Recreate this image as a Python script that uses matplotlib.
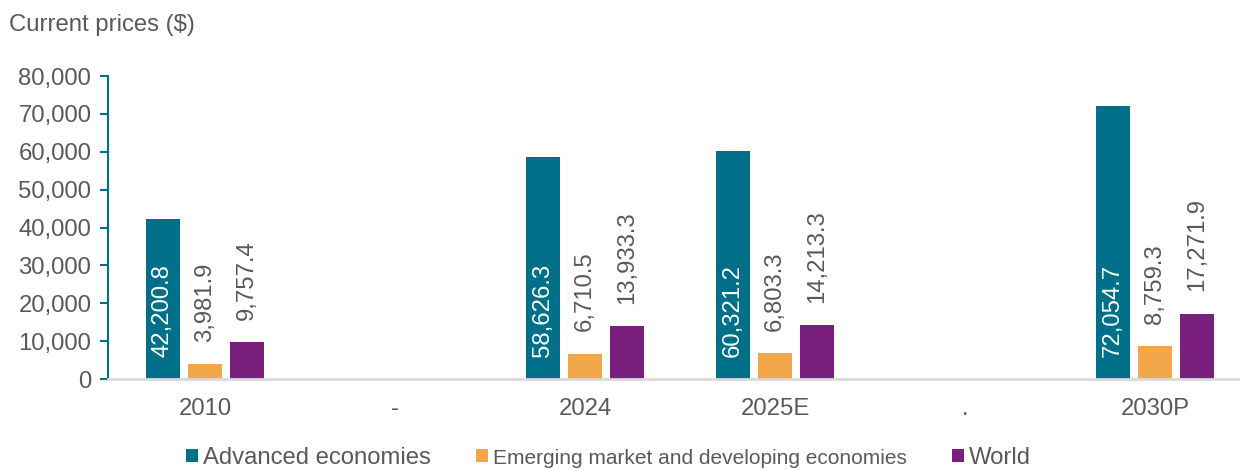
import numpy as np
import matplotlib.pyplot as plt

plt.rcParams['font.family'] = ['Liberation Sans', 'DejaVu Sans']

# data
categories = ['2010', '-', '2024', '2025E', '.', '2030P']
advanced = [42200.8, None, 58626.3, 60321.2, None, 72054.7]
emerging = [3981.9, None, 6710.5, 6803.3, None, 8759.3]
world = [9757.4, None, 13933.3, 14213.3, None, 17271.9]
series_names = ['Advanced economies', 'Emerging market and developing economies', 'World']

teal = '#006f8a'
orange = '#f2a74b'
purple = '#7a1f7e'
grey_text = '#595959'
fs = 17.2

fig = plt.figure(figsize=(12.4, 4.7), dpi=100)
ax = fig.add_axes([108/1240, 91/470, (1240-108)/1240, 303/470])

x = np.arange(len(categories))
width = 0.179
step = 0.221

all_series = [advanced, emerging, world]
colors = [teal, orange, purple]
for k, (vals, col, name) in enumerate(zip(all_series, colors, series_names)):
    xs = [x[i] + (k-1)*step for i in range(len(vals)) if vals[i] is not None]
    ys = [v for v in vals if v is not None]
    ax.bar(xs, ys, width=width, color=col, label=name, zorder=2)
    for xi, yi in zip(xs, ys):
        txt = f'{yi:,.1f}'
        if k == 0:
            ax.annotate(txt, (xi, 0), xytext=(0, 16), textcoords='offset points',
                        rotation=90, ha='center', va='bottom', color='white', fontsize=fs)
        else:
            ax.annotate(txt, (xi, yi), xytext=(0, 16), textcoords='offset points',
                        rotation=90, ha='center', va='bottom', color=grey_text, fontsize=fs)

ax.set_xlim(-0.51, 5.447)
ax.set_ylim(0, 80000)
ax.set_yticks(np.arange(0, 80001, 10000))
ax.set_yticklabels([f'{v:,}' for v in range(0, 80001, 10000)])
ax.set_xticks(x)
ax.set_xticklabels(categories)

for s in ['top', 'right']:
    ax.spines[s].set_visible(False)
ax.spines['left'].set_color(teal)
ax.spines['left'].set_linewidth(1.5)
ax.spines['bottom'].set_color('#d9d9d9')
ax.spines['bottom'].set_linewidth(2)
ax.tick_params(axis='y', colors=teal, labelcolor=grey_text, labelsize=fs, length=6, width=1.5, pad=6)
ax.tick_params(axis='x', length=0, labelcolor=grey_text, labelsize=fs, pad=14)

fig.text(9/1240, 1-25/470, 'Current prices ($)', fontsize=fs, color=grey_text, va='center', ha='left')

leg = fig.legend(loc='center left', bbox_to_anchor=(186/1240, 1-458/470), ncol=3, frameon=False,
                 fontsize=fs, handlelength=0.5, handleheight=0.5, handletextpad=0.2,
                 columnspacing=1.9, borderaxespad=0, borderpad=0)
for t in leg.get_texts():
    t.set_color(grey_text)
# long entry is squeezed in the reference
leg.get_texts()[1].set_fontsize(15)

fig.savefig('out.png', dpi=100)
